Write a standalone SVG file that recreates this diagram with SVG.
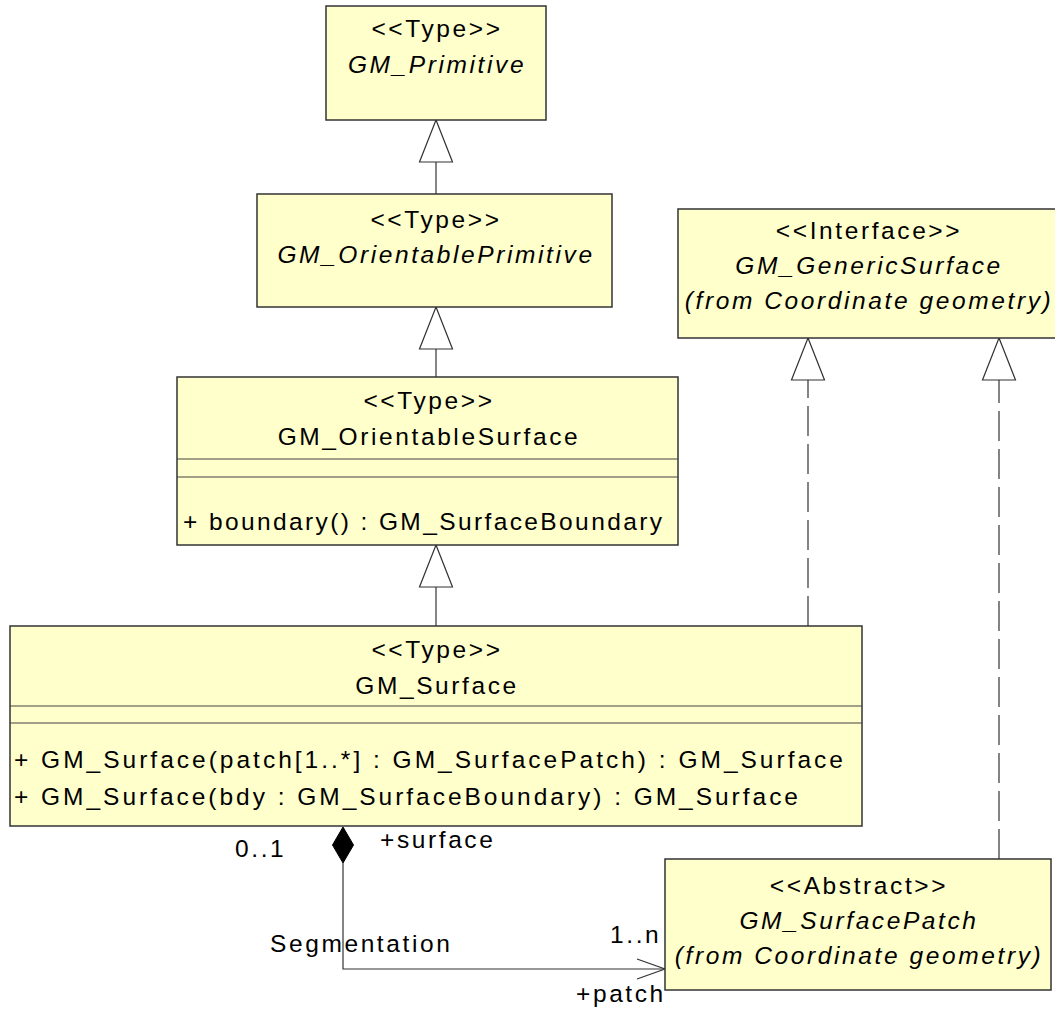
<svg xmlns="http://www.w3.org/2000/svg" width="1055" height="1011" viewBox="0 0 1055 1011">
<style>
  .box { fill: #FFFFCC; stroke: #333333; stroke-width: 1.5; }
  .sep { stroke: #444444; stroke-width: 1.2; }
  text { font-family: "Liberation Sans", Arial, sans-serif; font-size: 24.5px; letter-spacing: 2.6px; fill: #000000; }
  .c { text-anchor: middle; }
  .i { font-style: italic; }
  .op { letter-spacing: 0; }
  .line { fill: none; stroke: #333333; stroke-width: 1.2; }
  .dash { fill: none; stroke: #333333; stroke-width: 1.2; stroke-dasharray: 30 8; }
  .tri { fill: #FFFFFF; stroke: #333333; stroke-width: 1.2; }
</style>
<rect width="1055" height="1011" fill="#FFFFFF"/>

<g id="connectors">
  <line class="line" x1="436" y1="162" x2="436" y2="194"/>
  <polygon class="tri" points="436,120 419.5,162 452.5,162"/>
  <line class="line" x1="436" y1="349" x2="436" y2="377"/>
  <polygon class="tri" points="436,307 419.5,349 452.5,349"/>
  <line class="line" x1="436" y1="587" x2="436" y2="626"/>
  <polygon class="tri" points="436,545 419.5,587 452.5,587"/>
  <path class="dash" d="M808,626 L808,380"/>
  <polygon class="tri" points="808,338 791.5,380 824.5,380"/>
  <path class="dash" d="M999,859 L999,380"/>
  <polygon class="tri" points="999,338 982.5,380 1015.5,380"/>
  <path class="line" d="M343,863 L343,969 L665,969"/>
  <polygon points="343,827 332.5,845 343,863 353.5,845" fill="#000000" stroke="#000000" stroke-width="1"/>
  <path class="line" d="M637,959 L665,969 L637,979"/>
  <text x="235" y="857">0..1</text>
  <text x="380" y="848">+surface</text>
  <text x="270" y="952">Segmentation</text>
  <text x="610" y="943">1..n</text>
  <text x="576" y="1002">+patch</text>
</g>

<g id="GM_Primitive">
  <rect class="box" x="326" y="6" width="220" height="114"/>
  <text class="c" x="437" y="37">&lt;&lt;Type&gt;&gt;</text>
  <text class="c i" x="437" y="73">GM_Primitive</text>
</g>

<g id="GM_OrientablePrimitive">
  <rect class="box" x="257" y="194" width="355" height="113"/>
  <text class="c" x="436" y="228">&lt;&lt;Type&gt;&gt;</text>
  <text class="c i" x="436" y="263">GM_OrientablePrimitive</text>
</g>

<g id="GM_OrientableSurface">
  <rect class="box" x="177" y="377" width="501" height="168"/>
  <text class="c" x="429" y="409">&lt;&lt;Type&gt;&gt;</text>
  <text class="c" x="429" y="445">GM_OrientableSurface</text>
  <line class="sep" x1="177" y1="459" x2="678" y2="459"/>
  <line class="sep" x1="177" y1="477" x2="678" y2="477"/>
  <text class="op" x="183" y="530" textLength="479" lengthAdjust="spacing">+ boundary() : GM_SurfaceBoundary</text>
</g>

<g id="GM_Surface">
  <rect class="box" x="10" y="626" width="852" height="200"/>
  <text class="c" x="437" y="658">&lt;&lt;Type&gt;&gt;</text>
  <text class="c" x="437" y="694">GM_Surface</text>
  <line class="sep" x1="10" y1="706" x2="862" y2="706"/>
  <line class="sep" x1="10" y1="723" x2="862" y2="723"/>
  <text class="op" x="14" y="768" textLength="829" lengthAdjust="spacing">+ GM_Surface(patch[1..*] : GM_SurfacePatch) : GM_Surface</text>
  <text class="op" x="14" y="805" textLength="784" lengthAdjust="spacing">+ GM_Surface(bdy : GM_SurfaceBoundary) : GM_Surface</text>
</g>

<g id="GM_GenericSurface">
  <rect class="box" x="678" y="209" width="382" height="129"/>
  <text class="c" x="869" y="239">&lt;&lt;Interface&gt;&gt;</text>
  <text class="c i" x="869" y="274">GM_GenericSurface</text>
  <text class="c i" x="869" y="309">(from Coordinate geometry)</text>
</g>

<g id="GM_SurfacePatch">
  <rect class="box" x="665" y="859" width="386" height="131"/>
  <text class="c" x="859" y="894">&lt;&lt;Abstract&gt;&gt;</text>
  <text class="c i" x="859" y="929">GM_SurfacePatch</text>
  <text class="c i" x="859" y="964">(from Coordinate geometry)</text>
</g>
</svg>
